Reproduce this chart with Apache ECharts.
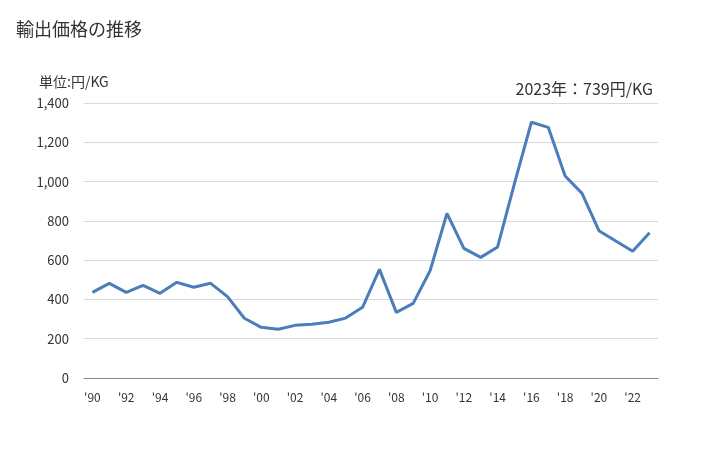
<!DOCTYPE html>
<html><head><meta charset="utf-8">
<script src="https://cdn.jsdelivr.net/npm/echarts@6/dist/echarts.min.js"></script>
<style>html,body{margin:0;padding:0;background:#fff}#c{width:728px;height:450px}</style>
</head><body><div id="c"></div>
<script>
const years = [1990,1991,1992,1993,1994,1995,1996,1997,1998,1999,2000,2001,2002,2003,2004,2005,2006,2007,2008,2009,2010,2011,2012,2013,2014,2015,2016,2017,2018,2019,2020,2021,2022,2023];
const prices = [436,482,436,472,431,487,462,482,414,304,258,248,268,274,284,305,360,553,334,380,546,838,660,614,667,991,1302,1276,1028,940,750,697,645,739];
const yTicks = [0,200,400,600,800,1000,1200,1400];
const titleText = '輸出価格の推移';
const unitText = '単位:円/KG';
const noteText = '2023年：739円/KG';
const FONT = '"Noto Sans CJK JP", "Noto Sans", sans-serif';
const chart = echarts.init(document.getElementById('c'));
chart.setOption({
  animation:false,
  textStyle:{fontFamily:FONT},
  title:[
    {text:titleText,left:11,top:15,textStyle:{fontSize:18,fontWeight:'normal',color:'#333',fontFamily:FONT}},
    {text:unitText,left:34,top:70,textStyle:{fontSize:14,fontWeight:'normal',color:'#333',fontFamily:FONT}},
    {text:noteText,right:70,top:76,textStyle:{fontSize:16,fontWeight:'normal',color:'#333',fontFamily:FONT}}
  ],
  grid:{left:84,right:70,top:103,bottom:72},
  xAxis:{type:'category',data:years.map(String),boundaryGap:true,
    axisLine:{lineStyle:{color:'#898989',width:1}},axisTick:{show:false},
    axisLabel:{interval:1,color:'#333',fontSize:12,margin:13,fontFamily:FONT,formatter:v=>"'"+v.slice(2)}},
  yAxis:{type:'value',min:yTicks[0],max:yTicks[yTicks.length-1],interval:200,
    axisLine:{show:false},axisTick:{show:false},
    splitLine:{lineStyle:{color:'#d9d9d9',width:1}},
    axisLabel:{color:'#333',fontSize:13,margin:15,fontFamily:FONT,formatter:v=>v.toLocaleString('en-US')}},
  series:[{type:'line',data:prices,symbol:'none',lineStyle:{color:'#4a7ebb',width:3},itemStyle:{color:'#4a7ebb'}}]
});
</script></body></html>
